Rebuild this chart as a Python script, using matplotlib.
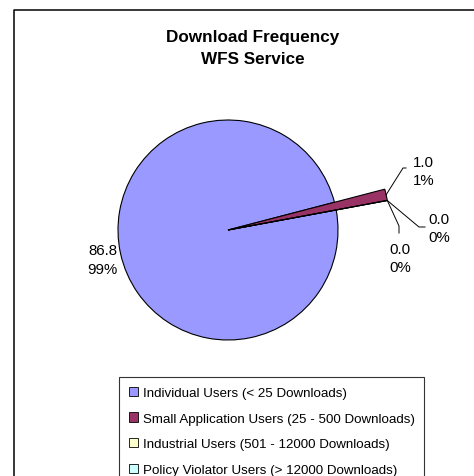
import numpy as np
import matplotlib.pyplot as plt
from matplotlib.lines import Line2D

# data
categories = ['Individual Users (< 25 Downloads)',
              'Small Application Users (25 - 500 Downloads)',
              'Industrial Users (501 - 12000 Downloads)',
              'Policy Violator Users (> 12000 Downloads)']
values = [86.8, 1.0, 0.0, 0.0]
colors = ['#9999FF', '#993366', '#FFFFCC', '#CCFFFF']

plt.rcParams['font.family'] = ['Liberation Sans', 'DejaVu Sans']

W, H = 474, 477
fig = plt.figure(figsize=(W / 100, H / 100), dpi=100)
ax = fig.add_axes([0, 0, 1, 1])

cx, cy = 228, H - 231
wedges, _ = ax.pie(values, colors=colors, startangle=10.5, counterclock=False,
                   center=(cx, cy), radius=110,
                   wedgeprops=dict(edgecolor='black', linewidth=0.8))
# the small slices stick out past the main disc
for w in wedges[1:]:
    w.set_radius(162)

ax.set_xlim(0, W)
ax.set_ylim(0, H)
ax.axis('off')

total = sum(values)
labels = ['%.1f\n%d%%' % (v, round(100 * v / total)) for v in values]


def tip(w):
    a = np.deg2rad((w.theta1 + w.theta2) / 2)
    return cx + w.r * np.cos(a), cy + w.r * np.sin(a)


fs = 10.8
ls = 1.4
ax.text(117, H - 260.5, labels[0], ha='right', va='center', fontsize=fs, linespacing=ls)

# leader lines for the small slices
x0, y0 = tip(wedges[1])
ax.plot([x0, 403, 406], [y0, H - 169, H - 169], color='black', lw=0.7)
ax.text(413, H - 172, labels[1], ha='left', va='center', fontsize=fs, linespacing=ls)

x0, y0 = tip(wedges[3])
ax.plot([x0, 419, 425], [y0, H - 228, H - 228], color='black', lw=0.7)
ax.text(428, H - 229, labels[3], ha='left', va='center', fontsize=fs, linespacing=ls)

x0, y0 = tip(wedges[2])
ax.plot([x0, 399, 399], [y0, H - 227, H - 234], color='black', lw=0.7)
ax.text(400, H - 259, labels[2], ha='center', va='center', fontsize=fs, linespacing=ls)

ax.text(253, H - 48.5, 'Download Frequency\nWFS Service', ha='center', va='center',
        fontsize=12.3, fontweight='bold', linespacing=1.6)

leg = fig.legend(wedges, categories, loc='upper left',
                 bbox_to_anchor=(119 / W, 1 - 378 / H), borderaxespad=0,
                 fontsize=9.6, frameon=True, fancybox=False, edgecolor='black',
                 handlelength=0.7, handleheight=0.7, handletextpad=0.35,
                 labelspacing=1.0, borderpad=0.72)
leg.get_frame().set_linewidth(0.8)
for h in leg.legend_handles:
    h.set_edgecolor('black')
    h.set_linewidth(0.6)

# outer chart border: only the left and top edges fall inside the image
fig.add_artist(Line2D([14 / W, 14 / W, 1.01], [-0.01, 1 - 11 / H, 1 - 11 / H],
                      transform=fig.transFigure, color='black', linewidth=1.1))

fig.savefig('out.png', dpi=100)
